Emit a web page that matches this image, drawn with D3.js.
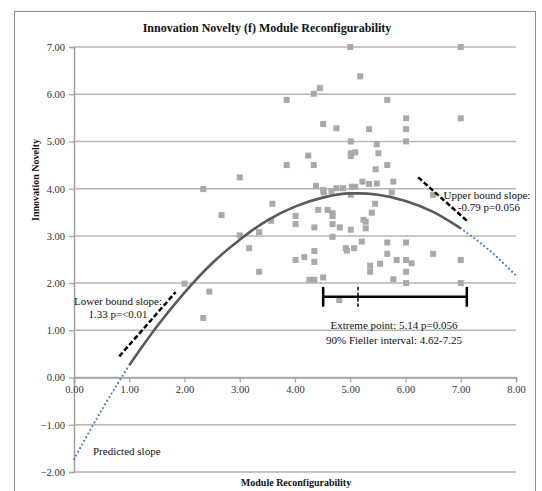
<!DOCTYPE html>
<html><head><meta charset="utf-8">
<script src="https://cdn.jsdelivr.net/npm/d3@7"></script>
<style>
html,body{margin:0;padding:0;background:#fff;}
svg{display:block;font-family:"Liberation Serif","Times New Roman",serif;}
</style></head>
<body>
<svg id="c" width="542" height="491"></svg>
<script>
// ---- data ----
const chartTitle = "Innovation Novelty (f) Module Reconfigurability";
const xTitle = "Module Reconfigurability";
const yTitle = "Innovation Novelty";
const xTicks = [0,1,2,3,4,5,6,7,8];
const yTicks = [-2,-1,0,1,2,3,4,5,6,7];

const pointsX = [5.00,7.00,5.18,4.45,4.34,3.85,5.67,6.01,7.00,4.51,4.75,5.34,6.01,5.01,6.01,5.48,4.24,5.01,5.09,5.01,5.51,3.85,4.34,5.67,5.46,3.00,2.34,4.38,4.51,4.52,4.75,4.66,4.87,5.03,5.09,5.01,5.22,5.34,5.48,5.78,5.75,6.50,5.45,5.39,3.59,2.67,4.01,4.01,3.57,4.42,4.59,4.68,4.68,5.24,5.28,5.28,4.35,4.68,4.81,5.01,3.35,3.00,4.68,3.17,5.21,5.07,4.92,4.94,4.35,4.17,4.01,4.35,3.35,5.36,5.36,5.54,4.26,4.35,4.51,2.45,4.80,2.34,2.00,5.67,6.01,5.67,6.50,5.84,6.01,6.11,7.00,6.01,5.78,6.01,7.00];
const pointsY = [7.00,7.00,6.38,6.13,6.01,5.88,5.88,5.49,5.49,5.37,5.28,5.26,5.26,5.00,5.00,4.94,4.70,4.75,4.77,4.69,4.75,4.50,4.50,4.50,4.41,4.24,3.99,4.06,3.97,3.92,4.01,3.94,4.01,4.04,4.04,3.87,4.15,4.10,4.11,4.15,3.92,3.87,3.68,3.49,3.68,3.44,3.42,3.25,3.32,3.55,3.55,3.48,3.42,3.34,3.30,3.16,3.18,3.25,3.18,3.13,3.08,3.01,2.98,2.74,2.88,2.74,2.74,2.69,2.68,2.55,2.49,2.45,2.24,2.37,2.24,2.41,2.07,2.07,2.12,1.82,1.64,1.26,1.99,2.86,2.86,2.62,2.62,2.49,2.49,2.42,2.49,2.24,2.08,2.00,2.00];

// fitted curve
const fitX = [1.0,1.5,2.0,2.5,3.0,3.5,4.0,4.5,5.0,5.14,5.5,6.0,6.5,7.0];
const fitY = [0.26,1.08,1.80,2.42,2.92,3.33,3.62,3.81,3.90,3.90,3.87,3.74,3.51,3.16];
// predicted (dotted) extensions
const predLeftX = [0.0,0.5,1.0];
const predLeftY = [-1.73,-0.69,0.26];
const predRightX = [7.0,7.5,8.0];
const predRightY = [3.16,2.71,2.16];
// bound slope segments
const lowerBoundX = [0.82,1.84];
const lowerBoundY = [0.45,1.81];
const upperBoundX = [6.23,7.14];
const upperBoundY = [4.24,3.29];
// Fieller interval bar
const fiellerX = [4.51,5.14,7.11];
const fiellerY = 1.71;
const fiellerCap = 0.21;

// ---- drawing ----
const svg = d3.select("#c");
const x = d3.scaleLinear().domain([0,8]).range([74,516]);
const y = d3.scaleLinear().domain([-2,7]).range([472,47]);

svg.append("rect").attr("x",14.5).attr("y",11.5).attr("width",521).attr("height",490)
  .attr("fill","#fff").attr("stroke","#8c8c8c").attr("stroke-width",1);

// gridlines
svg.append("g").selectAll("line").data(yTicks).join("line")
  .attr("x1",x(0)).attr("x2",x(8)).attr("y1",d=>y(d)).attr("y2",d=>y(d))
  .attr("stroke","#b5b5b5").attr("stroke-width",1.5);

// y axis
const yAxis = d3.axisLeft(y).tickValues(yTicks).tickFormat(d3.format(".2f")).tickSize(5).tickPadding(4);
const gy = svg.append("g").attr("transform",`translate(${x(0)},0)`).call(yAxis);
gy.select(".domain").attr("stroke","#a0a0a0").attr("stroke-width",1.5);
gy.selectAll(".tick line").attr("stroke","#a0a0a0").attr("stroke-width",1.2);
gy.selectAll("text").attr("font-family","Liberation Serif").attr("font-size",10.5).attr("fill","#333");

// x axis at y=0
const xAxis = d3.axisBottom(x).tickValues(xTicks).tickFormat(d3.format(".2f")).tickSize(5).tickPadding(3);
const gx = svg.append("g").attr("transform",`translate(0,${y(0)})`).call(xAxis);
gx.select(".domain").attr("stroke","#a0a0a0").attr("stroke-width",1.5);
gx.selectAll(".tick line").attr("stroke","#a0a0a0").attr("stroke-width",1.2);
gx.selectAll("text").attr("font-family","Liberation Serif").attr("font-size",10.5).attr("fill","#333");

// points
const pts = pointsX.map((v,i)=>[v,pointsY[i]]);
svg.append("g").selectAll("rect").data(pts).join("rect")
  .attr("x",d=>x(d[0])-3).attr("y",d=>y(d[1])-3).attr("width",6).attr("height",6)
  .attr("fill","#a9a9a9");

const line = d3.line().x(d=>x(d[0])).y(d=>y(d[1])).curve(d3.curveMonotoneX);
const zip = (a,b)=>a.map((v,i)=>[v,b[i]]);

// dotted predicted
[zip(predLeftX,predLeftY), zip(predRightX,predRightY)].forEach(seg=>{
  svg.append("path").attr("d",line(seg)).attr("fill","none")
    .attr("stroke","#4a7ebb").attr("stroke-width",2.2)
    .attr("stroke-dasharray","0 4.2").attr("stroke-linecap","round");
});

// fitted curve
svg.append("path").attr("d",line(zip(fitX,fitY))).attr("fill","none")
  .attr("stroke","#5a5a5a").attr("stroke-width",2.6);

// bound slopes
[zip(lowerBoundX,lowerBoundY), zip(upperBoundX,upperBoundY)].forEach(seg=>{
  svg.append("path").attr("d",d3.line().x(d=>x(d[0])).y(d=>y(d[1]))(seg)).attr("fill","none")
    .attr("stroke","#000").attr("stroke-width",2.5).attr("stroke-dasharray","5 2.5");
});

// Fieller bar
const fb = svg.append("g").attr("stroke","#000");
fb.append("line").attr("x1",x(fiellerX[0])).attr("x2",x(fiellerX[2]))
  .attr("y1",y(fiellerY)).attr("y2",y(fiellerY)).attr("stroke-width",2.5);
[fiellerX[0],fiellerX[2]].forEach(v=>{
  fb.append("line").attr("x1",x(v)).attr("x2",x(v))
    .attr("y1",y(fiellerY+fiellerCap)).attr("y2",y(fiellerY-fiellerCap)).attr("stroke-width",2.5);
});
fb.append("line").attr("x1",x(fiellerX[1])).attr("x2",x(fiellerX[1]))
  .attr("y1",y(fiellerY+fiellerCap)).attr("y2",y(fiellerY-fiellerCap))
  .attr("stroke-width",1.5).attr("stroke-dasharray","3.5 2");

// texts
function txt(t,xx,yy,opt={}){
  return svg.append("text").attr("x",xx).attr("y",yy).text(t)
    .attr("font-family","Liberation Serif").attr("font-size",opt.size||11)
    .attr("font-weight",opt.bold?"bold":"normal").attr("fill","#111")
    .attr("text-anchor",opt.anchor||"middle");
}
txt(chartTitle,267,32,{size:12,bold:true});
txt(xTitle,296,486,{size:10,bold:true});
svg.append("text").attr("transform","translate(39,180) rotate(-90)").attr("text-anchor","middle")
  .attr("font-family","Liberation Serif").attr("font-size",10).attr("font-weight","bold").attr("fill","#111")
  .text(yTitle);

txt("Predicted slope",93,455,{anchor:"start"});
txt("Lower bound slope:",118,305);
txt("1.33 p=<0.01",118,318);
txt("Upper bound slope:",487,199);
txt("-0.79 p=0.056",489,211);
txt("Extreme point: 5.14 p=0.056",394,329);
txt("90% Fieller interval: 4.62-7.25",394,344);
</script>
</body></html>
